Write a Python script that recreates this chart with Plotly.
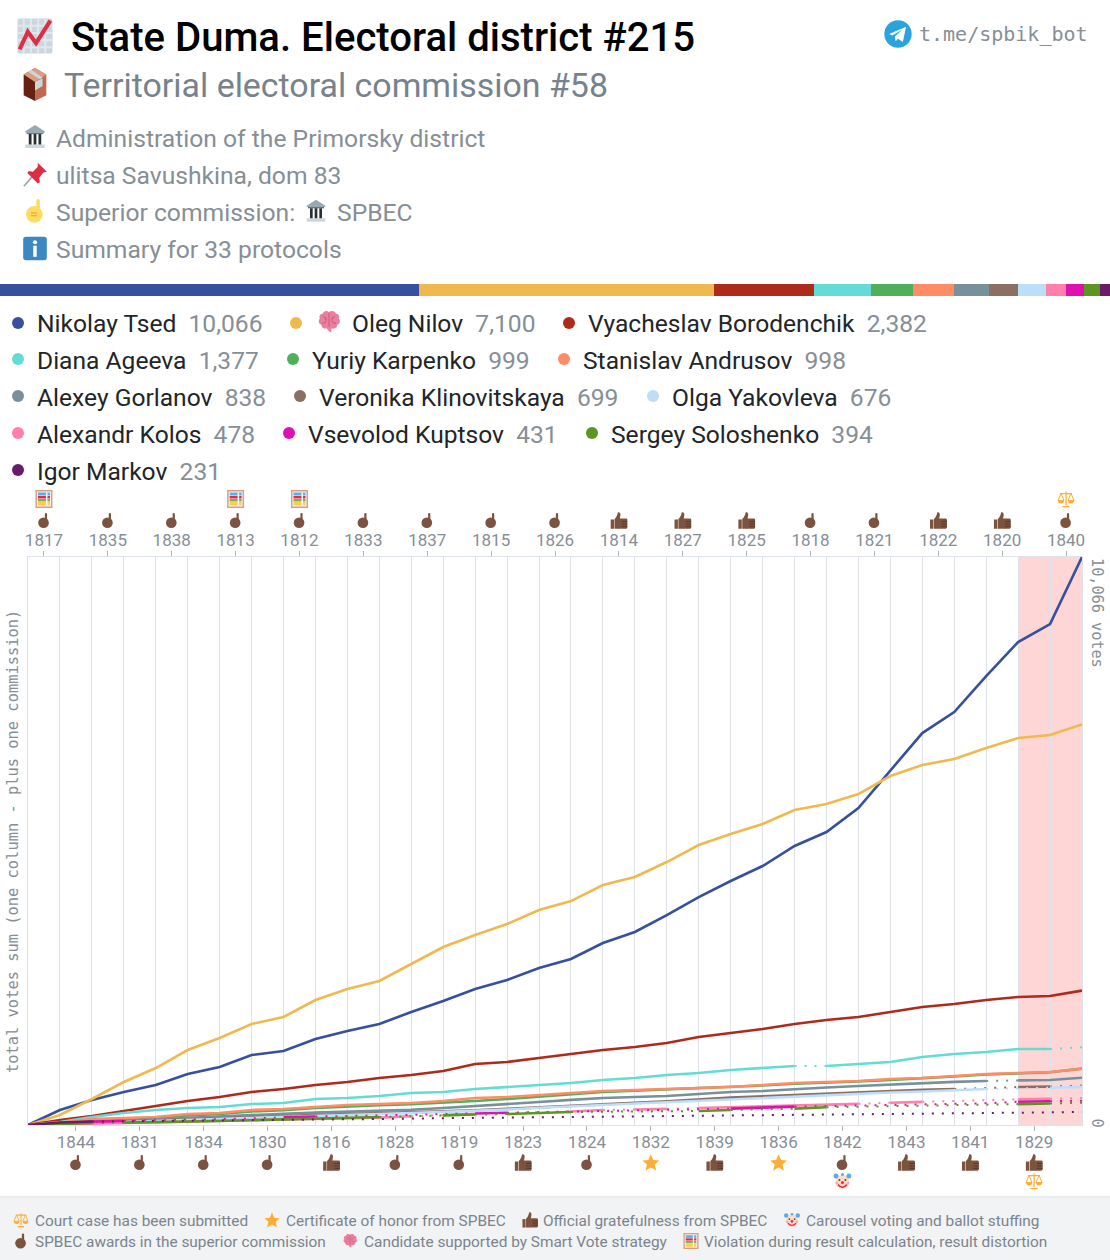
import base64
import plotly.graph_objects as go

W, H = 1110, 1260
names = ["Nikolay Tsed", "Oleg Nilov", "Vyacheslav Borodenchik", "Diana Ageeva", "Yuriy Karpenko", "Stanislav Andrusov",
         "Alexey Gorlanov", "Veronika Klinovitskaya", "Olga Yakovleva", "Alexandr Kolos", "Vsevolod Kuptsov",
         "Sergey Soloshenko", "Igor Markov"]
colors = ["#364F9E", "#F0B94F", "#AE2A1B", "#64DCD6", "#4FAF5A", "#FF8C64", "#78909C", "#8D6E63", "#BBDEFB",
          "#FF80AB", "#E010B0", "#5A9620", "#6A1B6A"]
commissions = ["1817", "1844", "1835", "1831", "1838", "1834", "1813", "1830", "1812", "1816", "1833", "1828", "1837",
               "1819", "1815", "1823", "1826", "1824", "1814", "1832", "1827", "1839", "1825", "1836", "1818", "1842",
               "1821", "1843", "1822", "1841", "1820", "1829", "1840"]
awards = ["p", "p", "p", "p", "p", "p", "p", "p", "p", "t", "p", "p", "p", "p", "p", "t", "p", "p", "t", "s", "t", "t",
          "t", "s", "p", "p", "p", "t", "t", "t", "t", "t", "p"]
extras = {"1817": "abacus", "1813": "abacus", "1812": "abacus", "1842": "clown", "1829": "scales", "1840": "scales"}

tsed = [0, 266, 443, 585, 709, 904, 1028, 1240, 1311, 1524, 1666, 1790, 2002, 2197, 2410, 2569, 2782, 2942, 3225, 3420,
        3721, 4040, 4324, 4589, 4944, 5192, 5617, 6273, 6946, 7318, 7956, 8559, 8878, 10066]
nilov = [0, 177, 461, 762, 1010, 1329, 1542, 1790, 1914, 2215, 2410, 2552, 2853, 3154, 3367, 3562, 3810, 3969, 4253,
         4395, 4660, 4962, 5157, 5334, 5582, 5688, 5865, 6184, 6379, 6485, 6680, 6857, 6911, 7100]
borodenchik = [0, 89, 159, 248, 337, 425, 496, 585, 638, 709, 762, 833, 886, 957, 1081, 1116, 1187, 1258, 1329, 1382,
               1453, 1559, 1630, 1701, 1790, 1861, 1914, 2002, 2091, 2144, 2215, 2268, 2286, 2382]
ageeva = [0, 53, 142, 213, 266, 301, 319, 372, 390, 461, 478, 514, 567, 585, 638, 673, 709, 744, 797, 833, 886, 921,
          975, 1010, 1045, 1045, 1081, 1116, 1205, 1258, 1294, 1347, 1347, 1377]
karpenko = [0, 35, 85, 105, 125, 170, 195, 240, 262, 300, 330, 350, 368, 390, 425, 460, 505, 545, 585, 610, 632, 650,
            675, 700, 730, 745, 770, 800, 825, 860, 895, 915, 935, 999]
andrusov = [0, 40, 106, 124, 142, 195, 213, 266, 283, 319, 354, 372, 390, 425, 478, 496, 532, 567, 602, 620, 638, 656,
            673, 709, 744, 762, 780, 815, 833, 868, 904, 921, 939, 998]
gorlanov = [0, 25, 60, 85, 105, 135, 160, 180, 200, 220, 235, 255, 270, 300, 340, 375, 408, 445, 478, 495, 514, 550,
            585, 602, 638, 665, 691, 720, 744, 765, 780, 790, 797, 838]
klinovitskaya = [0, 20, 50, 65, 80, 105, 125, 145, 160, 175, 190, 205, 220, 235, 260, 285, 315, 340, 370, 395, 420,
                 455, 485, 510, 535, 560, 580, 605, 625, 638, 650, 673, 680, 699]
yakovleva = [0, 18, 45, 60, 75, 95, 110, 125, 145, 160, 180, 195, 210, 230, 255, 275, 305, 330, 355, 380, 405, 430, 455,
             480, 510, 530, 555, 575, 595, 615, 638, 650, 660, 676]
kolos = [0, 10, 25, 35, 50, 60, 75, 85, 100, 110, 125, 130, 155, 175, 200, 215, 225, 240, 266, 275, 285, 300, 315, 330,
         345, 360, 375, 395, 410, 430, 440, 455, 465, 478]
kuptsov = [0, 15, 60, 72, 80, 90, 100, 115, 135, 150, 158, 165, 180, 195, 205, 218, 228, 240, 250, 258, 266, 280, 290, 305,
           325, 335, 345, 355, 365, 375, 385, 412, 420, 431]
soloshenko = [0, 20, 35, 42, 48, 60, 71, 85, 100, 124, 132, 142, 155, 170, 185, 195, 212, 230, 235, 240, 245, 248, 266,
              278, 290, 315, 325, 335, 345, 355, 365, 370, 382, 394]
markov = [0, 45, 62, 66, 70, 74, 78, 82, 85, 90, 98, 106, 115, 120, 125, 130, 135, 138, 142, 146, 150, 155, 160, 165,
          172, 178, 185, 192, 198, 205, 212, 218, 222, 231]
series = [tsed, nilov, borodenchik, ageeva, karpenko, andrusov, gorlanov, klinovitskaya, yakovleva, kolos, kuptsov,
          soloshenko, markov]
dotted = {
    3: [24, 32],
    6: [30],
    7: [29, 30, 32],
    8: [30, 31],
    9: [12, 14, 15, 16, 18, 20, 26, 28, 29, 30, 32],
    10: [3, 4, 5, 6, 7, 9, 10, 11, 12, 13, 15, 16, 17, 18, 19, 20, 21, 24, 25, 26, 27, 28, 29, 30, 32],
    11: [2, 11, 12, 14, 17, 18, 19, 20, 22, 23, 25, 26, 27, 28, 29, 30, 32],
    12: list(range(2, 33)),
}

X0, X1, Y0, Y1 = 28, 1082, 1125, 557
PX = lambda x: x / W
PY = lambda y: 1 - y / H
GREY = "#868E96"
DARK = "#212529"
ROBOTO = "Roboto, sans-serif"
MONO = "DejaVu Sans Mono, monospace"


def uri(body):
    svg = '<svg xmlns="http://www.w3.org/2000/svg" viewBox="0 0 36 36">' + body + "</svg>"
    return "data:image/svg+xml;base64," + base64.b64encode(svg.encode()).decode()


SKIN = "#7C533E"
ICONS = {
    "p": uri(f'<circle cx="17" cy="23" r="12" fill="{SKIN}"/><rect x="20" y="1" width="5" height="20" rx="2.5" fill="{SKIN}"/>'),
    "py": uri('<circle cx="17" cy="23" r="12" fill="#FFDC5D"/><rect x="20" y="1" width="5" height="20" rx="2.5" fill="#FFDC5D"/><path d="M12 21h9M12 25h9" stroke="#EF9645" stroke-width="1.5"/>'),
    "t": uri(f'<path d="M1 16h7v19H1z" fill="{SKIN}"/><path d="M9 15c4-3 6-9 7-14 4-1 6 2 5 7l-1 6h13c3 0 3 3 3 5v12c0 2-1 4-3 4H9z" fill="{SKIN}"/><path d="M24 20h11M24 25h11M24 30h11" stroke="#60352A" stroke-width="2"/>'),
    "s": uri('<path d="M18 1l5 12 12 1-9 8 3 13-11-7-11 7 3-13-9-8 12-1z" fill="#FFAC33"/>'),
    "clown": uri('<circle cx="18" cy="20" r="14" fill="#FFDBC8"/><circle cx="5" cy="8" r="5" fill="#55ACEE"/><circle cx="31" cy="8" r="5" fill="#55ACEE"/><circle cx="18" cy="5" r="3" fill="#55ACEE"/><circle cx="12" cy="16" r="2" fill="#664500"/><circle cx="24" cy="16" r="2" fill="#664500"/><circle cx="18" cy="21" r="3" fill="#DD2E44"/><path d="M9 25c5 7 13 7 18 0" stroke="#DD2E44" stroke-width="3" fill="none"/><circle cx="7" cy="22" r="3" fill="#F4ABBA"/><circle cx="29" cy="22" r="3" fill="#F4ABBA"/>'),
    "scales": uri('<path d="M18 3v27M6 7h24M11 33h14" stroke="#FFAC33" stroke-width="2.5" fill="none"/><path d="M8 7L2 21h12zM28 7l-6 14h12z" stroke="#FFAC33" stroke-width="2" fill="none"/><path d="M2 21a6 6 0 0012 0zM22 21a6 6 0 0012 0z" fill="#FFAC33"/>'),
    "abacus": uri('<rect x="1" y="0" width="34" height="36" fill="#D99E82"/><rect x="4" y="3" width="28" height="30" fill="#F5F8FA"/><rect x="6" y="5" width="24" height="6" fill="#5DADEC"/><rect x="6" y="12" width="24" height="5" fill="#DD2E44"/><rect x="6" y="18" width="24" height="5" fill="#78B159"/><rect x="6" y="24" width="24" height="7" fill="#FFCC4D"/><rect x="22" y="5" width="3" height="26" fill="#F5F8FA"/>'),
    "bank": uri('<path d="M18 1L4 10v2h28v-2z" fill="#99AAB5"/><rect x="4" y="29" width="28" height="5" fill="#CCD6DD"/><rect x="6" y="12" width="24" height="2" fill="#66757F"/><path d="M9 14h4v15H9zM16 14h4v15h-4zM23 14h4v15h-4z" fill="#292F33"/>'),
    "pin": uri('<path d="M2 35L15 20" stroke="#99AAB5" stroke-width="2.5"/><path d="M22 1l13 13-5 1-6 8 1 6-3 2L7 16l2-3 6 1 7-7z" fill="#DD2E44"/>'),
    "info": uri('<rect x="1" y="1" width="34" height="34" rx="4" fill="#3B88C3"/><circle cx="18" cy="9" r="3" fill="#fff"/><rect x="15.5" y="14" width="5" height="16" fill="#fff"/>'),
    "chart": uri('<rect x="1" y="1" width="34" height="34" rx="2" fill="#CCD6DD"/><path d="M7 1v34M14 1v34M21 1v34M28 1v34M1 8h34M1 15h34M1 22h34M1 29h34" stroke="#E1E8ED" stroke-width="2"/><path d="M3 31L11 14l8 11L33 3" stroke="#DD2E44" stroke-width="4" fill="none"/>'),
    "box": uri('<path d="M18 1L6 8v22l12 6z" fill="#662113"/><path d="M18 1l12 7v22l-12 6z" fill="#C1694F"/><path d="M6 8l12-7 12 7-12 8z" fill="#D99E82"/><path d="M11 5l12 8 3-2-12-8zM18 16v9l8-5v-8z" fill="#CCD6DD"/>'),
    "telegram": uri('<circle cx="18" cy="18" r="17" fill="#2AA3DF"/><path d="M7 18l21-9-4 19-6-4-3 3-1-6 10-9-13 8z" fill="#fff"/>'),
    "brain": uri('<path d="M18 4c-3-3-8-2-9 2-4 0-6 4-4 7-3 3-2 8 2 9 0 4 4 7 8 5 1 3 3 5 6 6 1-2 0-4 1-6 4 2 8-1 8-5 4-1 5-6 2-9 2-3 0-7-4-7-1-4-7-5-10-2z" fill="#EA7F9E"/><path d="M18 5v20M10 11c3 0 4 2 4 5M26 11c-3 0-4 2-4 5M8 20c3 0 5-1 6-3M28 20c-3 0-5-1-6-3" stroke="#CE5E80" stroke-width="1.6" fill="none"/>'),
}

images, annotations, shapes = [], [], []


def icon(name, x, y, size):
    images.append(dict(source=ICONS[name], xref="paper", yref="paper", x=PX(x), y=PY(y), sizex=size / W, sizey=size / H,
                       xanchor="center", yanchor="middle", sizing="contain", layer="above"))


def col_icon(name, col, y, size):
    images.append(dict(source=ICONS[name], xref="x", yref="paper", x=col + 0.5, y=PY(y), sizex=size / ((X1 - X0) / 33),
                       sizey=size / H, xanchor="center", yanchor="middle", sizing="contain", layer="above"))


def text(s, x, y, size, color=GREY, family=ROBOTO, anchor="left", vanchor="middle", angle=0, weight=None):
    font = dict(size=size, color=color, family=family)
    if weight:
        font["weight"] = weight
    annotations.append(dict(text=s, x=PX(x), y=PY(y), xref="paper", yref="paper", xanchor=anchor, yanchor=vanchor,
                            showarrow=False, font=font, textangle=angle, borderpad=0, borderwidth=0))


# Header
shapes.append(dict(type="rect", xref="paper", yref="paper", x0=0, x1=1, y0=0, y1=PY(1198), fillcolor="#F1F3F5",
                   line=dict(width=0), layer="below"))
shapes.append(dict(type="rect", xref="paper", yref="paper", x0=0, x1=1, y0=PY(1198), y1=PY(1196), fillcolor="#E9ECEF",
                   line=dict(width=0), layer="below"))
icon("chart", 35, 36, 37)
text("State Duma. Electoral district #215", 71, 37, 40.1, "#000000", weight=500)
icon("box", 35, 84, 34)
text("Territorial electoral commission #58", 64, 86, 33.9, "#78828C")
icon("telegram", 898, 34, 29)
text("t.me/spbik_bot", 919, 34, 20, GREY, MONO)
for nm, s, y in [("bank", "Administration of the Primorsky district", 138.4), ("pin", "ulitsa Savushkina, dom 83", 176),
                 ("py", "Superior commission:", 212.4), ("info", "Summary for 33 protocols", 250)]:
    icon(nm, 35, y - 1.5, 25)
    text(s, 56, y, 24.65, GREY)
icon("bank", 316, 211, 24)
text("SPBEC", 337, 212.4, 24.65, GREY)

# Legend
leg_rows = [(324, [18, 296, 569], [37, 352, 588]), (360.4, [18, 293, 564], [37, 312, 583]),
            (397.4, [18, 300, 653], [37, 319, 672]), (434.4, [18, 289, 592], [37, 308, 611]), (471.4, [18], [37])]
i = 0
for y, dots, txts in leg_rows:
    for dx, tx in zip(dots, txts):
        shapes.append(dict(type="circle", xref="paper", yref="paper", x0=PX(dx - 6), x1=PX(dx + 6), y0=PY(round(y) - 7),
                           y1=PY(round(y) + 5), fillcolor=colors[i], line=dict(width=0)))
        text(f'<span style="color:{DARK}">{names[i]}</span>  {series[i][-1]:,}', tx, y, 24.6, GREY)
        i += 1
icon("brain", 329, 322, 25)

# Footer
for nm, ix, s, tx, y in [("scales", 21, "Court case has been submitted", 35, 1221),
                         ("s", 272, "Certificate of honor from SPBEC", 286, 1221),
                         ("t", 530, "Official gratefulness from SPBEC", 543, 1221),
                         ("clown", 792, "Carousel voting and ballot stuffing", 806, 1221),
                         ("p", 21, "SPBEC awards in the superior commission", 35, 1242),
                         ("brain", 350, "Candidate supported by Smart Vote strategy", 364, 1242),
                         ("abacus", 691, "Violation during result calculation, result distortion", 704, 1242)]:
    icon(nm, ix, y - 1, 16)
    text(s, tx, y, 15.4, "#7B848C")

# Axis captions
text("total votes sum (one column - plus one commission)", 13, 842, 15.4, GREY, MONO, "center", "middle", -90)
text("10,066 votes", 1097, 558, 15.2, GREY, MONO, "center", "top", 90)
text("0", 1097, 1127, 15.2, GREY, MONO, "center", "bottom", 90)

# Award icons
for c, code in enumerate(commissions):
    top = c % 2 == 0
    col_icon(awards[c], c, 520.5 if top else 1162.5, 16 if awards[c] == "p" else 17.5)
    if code in extras:
        col_icon(extras[code], c, 499 if top else 1181, 18)

shapes.append(dict(type="rect", xref="x", yref="paper", x0=31, x1=33, y0=PY(Y0), y1=PY(Y1),
                   fillcolor="rgba(255,60,60,0.21)", line=dict(width=0), layer="between"))

fig = go.Figure()
xs = list(range(34))


def add_seg(seg, y, color, dash):
    fig.add_trace(go.Scatter(x=[xs[k] for k in seg], y=[y[k] for k in seg], mode="lines", hoverinfo="skip",
                             line=dict(color=color, width=2.6 if dash == "solid" else 2, dash=dash, shape="linear"),
                             showlegend=False))


for i, y in enumerate(series):
    dots = set(dotted.get(i, []))
    k = 0
    while k < 33:
        d = k in dots
        j = k
        while j < 33 and (j in dots) == d:
            j += 1
        add_seg(list(range(k, j + 1)), y, colors[i], "2px,8px" if d else "solid")
        k = j

# Dummy trace so that the top axis (labels only) is drawn
fig.add_trace(go.Scatter(x=[0, 33], y=[0, 0], xaxis="x2", yaxis="y", mode="none", hoverinfo="skip", showlegend=False))

# Stacked share bar
total = sum(s[-1] for s in series)
for i, s in enumerate(series):
    fig.add_trace(go.Bar(x=[s[-1]], y=[0], orientation="h", xaxis="x3", yaxis="y3", width=1, hoverinfo="skip",
                         marker=dict(color=colors[i], line=dict(width=0)), showlegend=False))

bottom_vals = [k + 0.5 for k in range(1, 33, 2)]
top_vals = [k + 0.5 for k in range(0, 33, 2)]
axis_common = dict(range=[0, 33], ticks="outside", ticklen=5, tickwidth=1, tickcolor="#ADB5BD", showgrid=False,
                   zeroline=False, tickfont=dict(family=ROBOTO, size=17, color=GREY), tickmode="array")
fig.update_layout(
    width=W, height=H, autosize=False, margin=dict(l=0, r=0, t=0, b=0, pad=0, autoexpand=False), paper_bgcolor="#FFFFFF",
    plot_bgcolor="#FFFFFF", showlegend=False, barmode="stack", bargap=0, hovermode=False,
    xaxis=dict(axis_common, domain=[PX(X0), PX(X1)], anchor="y", side="bottom", tickvals=bottom_vals,
               ticktext=[commissions[k] for k in range(1, 33, 2)], showline=True, mirror=True, linecolor="#DEE2EC",
               linewidth=1, ticklabelstandoff=-3,
               minor=dict(tickmode="linear", tick0=0, dtick=1, showgrid=True, gridcolor="#DEE2EC", gridwidth=1.3, ticks="")),
    xaxis2=dict(axis_common, domain=[PX(X0), PX(X1)], anchor="y", overlaying="x", side="top", tickvals=top_vals,
                ticklabelstandoff=-2, ticktext=[commissions[k] for k in range(0, 33, 2)]),
    yaxis=dict(domain=[PY(Y0), PY(Y1)], range=[0, tsed[-1]], showticklabels=False, ticks="", showgrid=False,
               zeroline=False, anchor="x", showline=True, mirror=True, linecolor="#DEE2EC", linewidth=1),
    xaxis3=dict(domain=[0, 1], range=[0, total], visible=False, anchor="y3", fixedrange=True),
    yaxis3=dict(domain=[PY(296), PY(284)], range=[-0.5, 0.5], visible=False, anchor="x3", fixedrange=True),
    images=images, annotations=annotations, shapes=shapes,
)
fig.write_html("out.html", config=dict(displayModeBar=False),
               post_script="document.body.style.margin='0';document.documentElement.style.overflow='hidden';")
